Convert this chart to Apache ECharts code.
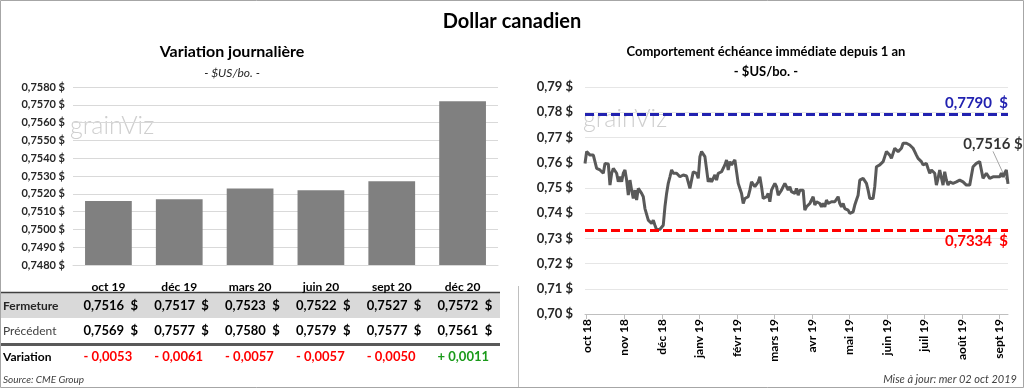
<!DOCTYPE html>
<html>
<head>
<meta charset="utf-8">
<script src="https://cdn.jsdelivr.net/npm/echarts@6/dist/echarts.min.js"></script>
<style>
html,body{margin:0;padding:0;background:#fff;}
#c{width:1024px;height:388px;}
</style>
</head>
<body>
<div id="c"></div>
<script>
// ---- data ----
const barCats = ['oct 19', 'déc 19', 'mars 20', 'juin 20', 'sept 20', 'déc 20'];
const closeVals = [0.7516, 0.7517, 0.7523, 0.7522, 0.7527, 0.7572];
const prevVals = [0.7569, 0.7577, 0.7580, 0.7579, 0.7577, 0.7561];
const varVals = [-0.0053, -0.0061, -0.0057, -0.0057, -0.0050, 0.0011];
const rowLabels = ['Fermeture', 'Précédent', 'Variation'];

const monthLabels = ['oct 18', 'nov 18', 'déc 18', 'janv 19', 'févr 19', 'mars 19', 'avr 19', 'mai 19', 'juin 19', 'juil 19', 'août 19', 'sept 19'];
const monthTickPos = [1, 23.5, 46.1, 68.6, 91.2, 113.7, 136.2, 158.8, 181.3, 203.9, 226.4, 248.9];

const dailyVals = [
0.7597,0.7644,0.7637,0.7630,0.7637,0.7630,0.7637,0.7577,0.7573,0.7571,
0.7564,0.7558,0.7597,0.7600,0.7595,0.7511,0.7558,0.7577,0.7571,0.7558,
0.7524,0.7544,0.7524,0.7558,0.7571,0.7531,0.7471,0.7531,0.7491,0.7458,
0.7491,0.7452,0.7498,0.7491,0.7478,0.7465,0.7418,0.7412,0.7372,0.7365,
0.7359,0.7372,0.7352,0.7334,0.7339,0.7336,0.7336,0.7352,0.7425,0.7478,
0.7518,0.7544,0.7571,0.7558,0.7551,0.7558,0.7558,0.7544,0.7551,0.7551,
0.7551,0.7547,0.7551,0.7498,0.7491,0.7564,0.7564,0.7558,0.7538,0.7624,
0.7644,0.7637,0.7624,0.7617,0.7524,0.7538,0.7524,0.7531,0.7551,0.7531,
0.7558,0.7551,0.7564,0.7571,0.7591,0.7611,0.7571,0.7604,0.7591,0.7597,
0.7611,0.7611,0.7518,0.7511,0.7478,0.7438,0.7458,0.7458,0.7465,0.7491,
0.7524,0.7518,0.7505,0.7505,0.7524,0.7544,0.7505,0.7458,0.7458,0.7465,
0.7478,0.7445,0.7491,0.7505,0.7518,0.7505,0.7471,0.7471,0.7491,0.7505,
0.7518,0.7505,0.7491,0.7505,0.7485,0.7491,0.7478,0.7498,0.7471,0.7491,
0.7485,0.7491,0.7412,0.7425,0.7432,0.7438,0.7432,0.7465,0.7432,0.7445,
0.7445,0.7438,0.7425,0.7438,0.7425,0.7452,0.7438,0.7432,0.7445,0.7438,
0.7445,0.7452,0.7465,0.7438,0.7425,0.7438,0.7418,0.7425,0.7412,0.7399,
0.7392,0.7405,0.7432,0.7452,0.7471,0.7531,0.7538,0.7538,0.7531,0.7518,
0.7491,0.7458,0.7458,0.7458,0.7505,0.7584,0.7591,0.7591,0.7597,0.7604,
0.7624,0.7644,0.7650,0.7630,0.7617,0.7637,0.7657,0.7650,0.7644,0.7637,
0.7657,0.7677,0.7670,0.7677,0.7670,0.7670,0.7670,0.7657,0.7644,0.7630,
0.7617,0.7611,0.7604,0.7591,0.7591,0.7597,0.7577,0.7558,0.7571,0.7571,
0.7558,0.7511,0.7538,0.7571,0.7564,0.7511,0.7564,0.7531,0.7511,0.7524,
0.7518,0.7518,0.7524,0.7524,0.7531,0.7531,0.7538,0.7524,0.7518,0.7511,
0.7511,0.7511,0.7511,0.7584,0.7591,0.7597,0.7604,0.7604,0.7597,0.7538,
0.7544,0.7558,0.7551,0.7538,0.7531,0.7544,0.7538,0.7544,0.7551,0.7544,
0.7558,0.7544,0.7558,0.7571,0.7516
];
const highVal = 0.7790;
const lowVal = 0.7334;

// ---- helpers ----
const FONT = 'Lato, "Open Sans", sans-serif';
const fmt = (v, d) => v.toFixed(d).replace('.', ',');

// chart geometry
const LG = { left: 73, top: 87, width: 425, height: 178 };
const RG = { left: 585, top: 87, width: 423, height: 227 };
const catW = LG.width / barCats.length;

const graphics = [];
graphics.push({ type: 'rect', shape: { x: 0.5, y: 0.5, width: 1023, height: 387 }, style: { fill: 'none', stroke: '#a6a6a6', lineWidth: 1 }, silent: true, z: 0 });
graphics.push({ type: 'text', x: 512, y: 22, style: { text: 'Dollar canadien', font: 'bold 20px ' + FONT, fill: '#000', align: 'center', verticalAlign: 'middle' } });
graphics.push({ type: 'text', x: 232, y: 52, style: { text: 'Variation journalière', font: 'bold 16px ' + FONT, fill: '#000', align: 'center', verticalAlign: 'middle' } });
graphics.push({ type: 'text', x: 232, y: 73, style: { text: '- $US/bo. -', font: 'italic 12px ' + FONT, fill: '#262626', align: 'center', verticalAlign: 'middle' } });
graphics.push({ type: 'text', x: 766, y: 52, style: { text: 'Comportement échéance immédiate depuis 1 an', font: 'bold 13px ' + FONT, fill: '#000', align: 'center', verticalAlign: 'middle' } });
graphics.push({ type: 'text', x: 766, y: 72, style: { text: '- $US/bo. -', font: 'bold 13px ' + FONT, fill: '#000', align: 'center', verticalAlign: 'middle' } });
graphics.push({ type: 'text', x: 70, y: 126, z: 0, style: { text: 'grainViz', font: '300 25px ' + FONT, fill: '#cfcfcf', align: 'left', verticalAlign: 'middle' } });
graphics.push({ type: 'text', x: 583, y: 119, z: 0, style: { text: 'grainViz', font: '300 25px ' + FONT, fill: '#cfcfcf', align: 'left', verticalAlign: 'middle' } });

graphics.push({ type: 'rect', shape: { x: 1, y: 293, width: 499, height: 25 }, style: { fill: '#d9d9d9' }, z: 0 });
graphics.push({ type: 'line', shape: { x1: 1, y1: 292.5, x2: 500, y2: 292.5 }, style: { stroke: '#404040', lineWidth: 1.5 } });
graphics.push({ type: 'line', shape: { x1: 1, y1: 344.5, x2: 500, y2: 344.5 }, style: { stroke: '#595959', lineWidth: 3 } });
graphics.push({ type: 'line', shape: { x1: 518.5, y1: 286, x2: 518.5, y2: 387 }, style: { stroke: '#bfbfbf', lineWidth: 1 } });
const rowY = [306, 331, 357];
graphics.push({ type: 'text', x: 3, y: rowY[0], style: { text: rowLabels[0], font: 'bold 12px ' + FONT, fill: '#262626', verticalAlign: 'middle' } });
graphics.push({ type: 'text', x: 3, y: rowY[1], style: { text: rowLabels[1], font: '12px ' + FONT, fill: '#404040', verticalAlign: 'middle' } });
graphics.push({ type: 'text', x: 3, y: rowY[2], style: { text: rowLabels[2], font: 'bold 12px ' + FONT, fill: '#000', verticalAlign: 'middle' } });
barCats.forEach((c, i) => {
  const x = LG.left + catW * (i + 0.5) - 25;
  graphics.push({ type: 'text', x: x, y: rowY[0], style: { text: fmt(closeVals[i], 4) + '  $', font: 'bold 13px ' + FONT, fill: '#000', verticalAlign: 'middle' } });
  graphics.push({ type: 'text', x: x, y: rowY[1], style: { text: fmt(prevVals[i], 4) + '  $', font: 'bold 13px ' + FONT, fill: '#000', verticalAlign: 'middle' } });
  const v = varVals[i];
  graphics.push({ type: 'text', x: x, y: rowY[2], style: { text: (v < 0 ? '- ' : '+ ') + fmt(Math.abs(v), 4), font: 'bold 13px ' + FONT, fill: v < 0 ? '#ff0000' : '#1a9a1a', verticalAlign: 'middle' } });
});
graphics.push({ type: 'text', x: 3, y: 380, style: { text: 'Source: CME Group', font: 'italic 10px ' + FONT, fill: '#404040', verticalAlign: 'middle' } });
graphics.push({ type: 'text', x: 1017, y: 379, style: { text: 'Mise à jour: mer 02 oct 2019', font: 'italic 11px ' + FONT, fill: '#404040', align: 'right', verticalAlign: 'middle' } });

const last = dailyVals.length - 1;
const lineData = dailyVals.map((v, i) => [i, v]);

const chart = echarts.init(document.getElementById('c'), null, { renderer: 'canvas' });
chart.setOption({
  animation: false,
  textStyle: { fontFamily: FONT },
  grid: [
    { left: LG.left, top: LG.top, width: LG.width, height: LG.height },
    { left: RG.left, top: RG.top, width: RG.width, height: RG.height }
  ],
  xAxis: [
    {
      gridIndex: 0, type: 'category', data: barCats,
      axisLine: { lineStyle: { color: '#d9d9d9' } }, axisTick: { show: false },
      axisLabel: { fontWeight: 'bold', fontSize: 12, color: '#000', margin: 16, fontFamily: FONT }
    },
    {
      gridIndex: 1, type: 'value', min: 0, max: last,
      splitLine: { show: false },
      axisLine: { lineStyle: { color: '#bfbfbf' } },
      axisTick: { show: true, customValues: monthTickPos, length: 5, lineStyle: { color: '#bfbfbf' } },
      axisLabel: {
        customValues: monthTickPos, rotate: 90, margin: 5, fontWeight: 'bold', fontSize: 12, color: '#000', fontFamily: FONT,
        formatter: (val) => { const k = monthTickPos.indexOf(val); return k >= 0 ? monthLabels[k] : ''; }
      }
    }
  ],
  yAxis: [
    {
      gridIndex: 0, type: 'value', min: 0.748, max: 0.758, interval: 0.001,
      axisLine: { show: false }, axisTick: { show: false },
      splitLine: { lineStyle: { color: '#d9d9d9' } },
      axisLabel: { formatter: v => fmt(v, 4) + ' $', fontWeight: 'bold', fontSize: 11, color: '#262626', margin: 8, fontFamily: FONT }
    },
    {
      gridIndex: 1, type: 'value', min: 0.70, max: 0.79, interval: 0.01,
      axisLine: { show: false }, axisTick: { show: false },
      splitLine: { lineStyle: { color: '#e6e6e6' } },
      axisLabel: { formatter: v => fmt(v, 2) + ' $', fontWeight: 'bold', fontSize: 13, color: '#262626', margin: 12, fontFamily: FONT }
    }
  ],
  series: [
    {
      type: 'bar', xAxisIndex: 0, yAxisIndex: 0, data: closeVals, barWidth: '66%',
      itemStyle: { color: '#808080' }, silent: true
    },
    {
      type: 'line', xAxisIndex: 1, yAxisIndex: 1, data: lineData, showSymbol: false, symbol: 'none',
      lineStyle: { color: '#595959', width: 3 }, silent: true,
      markLine: {
        silent: true, symbol: 'none', precision: 4,
        data: [
          { yAxis: highVal, lineStyle: { color: '#2222b0', type: [9, 4], width: 3 },
            label: { position: 'insideEndTop', formatter: fmt(highVal, 4) + '  $', color: '#2222b0', fontWeight: 'bold', fontSize: 15, fontFamily: FONT, distance: [0, 4] } },
          { yAxis: lowVal, lineStyle: { color: '#ff0000', type: [9, 4], width: 3 },
            label: { position: 'insideEndBottom', formatter: fmt(lowVal, 4) + '  $', color: '#ff0000', fontWeight: 'bold', fontSize: 15, fontFamily: FONT, distance: [0, 4] } }
        ]
      }
    },
    {
      type: 'scatter', xAxisIndex: 1, yAxisIndex: 1, silent: true,
      data: [[last, dailyVals[last]]], symbolSize: 1, itemStyle: { color: 'rgba(0,0,0,0)' },
      label: { show: true, position: 'top', distance: 5, formatter: p => fmt(p.value[1], 4) + ' $', color: '#000', fontWeight: 'bold', fontSize: 15, fontFamily: FONT },
      labelLayout: { dx: -15, dy: -27 },
      labelLine: { show: true, lineStyle: { color: '#a6a6a6', width: 1 } }
    }
  ],
  graphic: graphics
});
</script>
</body>
</html>
